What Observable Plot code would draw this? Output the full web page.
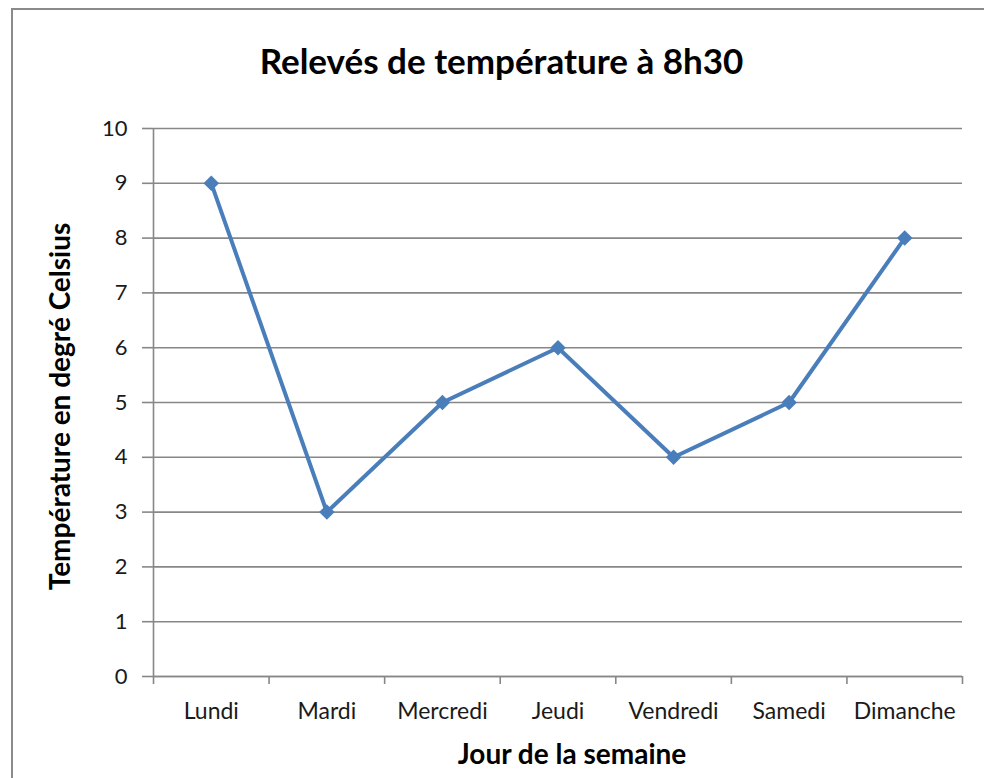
<!DOCTYPE html>
<html>
<head>
<meta charset="utf-8">
<script src="https://cdn.jsdelivr.net/npm/d3@7"></script>
<script src="https://cdn.jsdelivr.net/npm/@observablehq/plot@0.6"></script>
<style>
  html, body { margin: 0; padding: 0; background: #fff; overflow: hidden; }
  #wrap { position: relative; width: 984px; height: 778px; overflow: hidden; background: #fff; }
  #frame { position: absolute; left: 11px; top: 8px; width: 2000px; height: 2000px;
           border-top: 2px solid #8a8a8a; border-left: 2px solid #8a8a8a; pointer-events: none; }
  #title { position: relative; height: 100px; width: 1003px; text-align: center;
           font-family: Lato, "Open Sans", sans-serif; font-weight: bold; font-size: 35px;
           color: #000; line-height: 1; }
  #title span { position: absolute; left: 0; right: 0; top: 43px; }
  #chart { position: relative; }
</style>
</head>
<body>
<div id="wrap">
  <div id="frame"></div>
  <div id="title"><span>Relevés de température à 8h30</span></div>
  <div id="chart"></div>
</div>
<script>
const days = ["Lundi", "Mardi", "Mercredi", "Jeudi", "Vendredi", "Samedi", "Dimanche"];
const temps = [9, 3, 5, 6, 4, 5, 8];
const yTicks = [0, 1, 2, 3, 4, 5, 6, 7, 8, 9, 10];
const xLabel = "Jour de la semaine";
const yLabel = "Température en degré Celsius";

const data = days.map((d, i) => ({day: d, pos: i + 0.5, t: temps[i]}));
const boundaries = d3.range(days.length + 1);
const gridColor = "#878787";

const chart = Plot.plot({
  width: 984,
  height: 678,
  marginLeft: 153,
  marginRight: 22,
  marginTop: 28,
  marginBottom: 102,
  style: {fontFamily: "Lato, 'Open Sans', sans-serif", fontSize: "22px", color: "#1a1a1a", background: "transparent", overflow: "visible"},
  x: {domain: [0, days.length], axis: null},
  y: {domain: [0, 10], axis: null},
  marks: [
    Plot.gridY(yTicks, {stroke: gridColor, strokeOpacity: 1, strokeWidth: 1.6}),
    Plot.axisY(yTicks, {tickSize: 11, tickPadding: 15, tickFormat: d => String(d), stroke: gridColor, strokeWidth: 1.6, label: null, fontSize: 22}),
    Plot.ruleX([0], {stroke: gridColor, strokeWidth: 1.6}),
    Plot.ruleY([0], {stroke: gridColor, strokeWidth: 1.6}),
    Plot.axisX(boundaries, {tickSize: 8, tickFormat: () => "", stroke: gridColor, strokeWidth: 1.6, label: null}),
    Plot.axisX(data.map(d => d.pos), {tickSize: 0, tickPadding: 26, tickFormat: d => days[Math.floor(d)], label: null, fontSize: 23}),
    Plot.line(data, {x: "pos", y: "t", stroke: "#4a7ebb", strokeWidth: 4}),
    Plot.dot(data, {x: "pos", y: "t", symbol: "diamond2", r: 7, fill: "#4a7ebb", stroke: "none"}),
    Plot.text([xLabel], {frameAnchor: "bottom", dx: 14, dy: 87, text: d => d, fontWeight: "bold", fontSize: 28, fill: "#000"}),
    Plot.text([yLabel], {frameAnchor: "left", textAnchor: "middle", dx: -92, dy: 4, rotate: -90, text: d => d, fontWeight: "bold", fontSize: 28, fill: "#000"})
  ]
});
document.getElementById("chart").appendChild(chart);
</script>
</body>
</html>
